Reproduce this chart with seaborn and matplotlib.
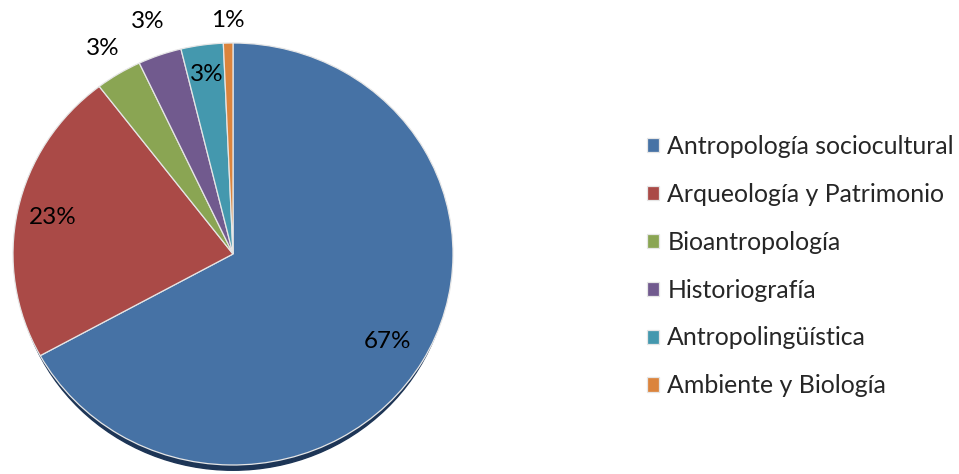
import numpy as np
import matplotlib
matplotlib.use("Agg")
import matplotlib.pyplot as plt
from matplotlib.patches import Ellipse
import seaborn as sns

categories = ["Antropología sociocultural", "Arqueología y Patrimonio", "Bioantropología",
              "Historiografía", "Antropolingüística", "Ambiente y Biología"]
values = [67.0, 22.6, 3.4, 3.2, 3.1, 0.7]
colors = ["#4672A5", "#AA4A47", "#8AA553", "#715A8E", "#4498AE", "#DB843D"]
label_dist = [0.816, 0.839, 1.139, 1.171, 0.858, 1.105]

sns.set_theme(style="white")
plt.rcParams['font.family'] = ['Lato', 'DejaVu Sans']

fig = plt.figure(figsize=(9.59, 4.74), dpi=100)
ax = fig.add_axes([13/959, 9/474, 440/959, 422/474])
ax.set_xlim(-1, 1)
ax.set_ylim(-1, 1)
ax.set_aspect('auto')
ax.axis('off')

# depth shadow
ax.add_patch(Ellipse((0, -0.03), 1.97, 1.99, color="#1d3556", zorder=0, clip_on=False))

wedges, _ = ax.pie(values, colors=colors, startangle=90, counterclock=False, radius=1,
                   wedgeprops=dict(edgecolor="#e6e6e6", linewidth=0.9))
ax.set_xlim(-1, 1)
ax.set_ylim(-1, 1)
ax.set_aspect('auto')
for w in wedges:
    w.set_zorder(2)
    w.set_clip_on(False)

total = sum(values)
cum = np.cumsum([0] + values)
for i, v in enumerate(values):
    mid = np.deg2rad((cum[i] + cum[i + 1]) / 2 / total * 360)
    d = label_dist[i]
    ax.text(d * np.sin(mid), d * np.cos(mid), f"{round(v / total * 100):.0f}%",
            ha="center", va="center", fontsize=17.5, color="black", zorder=5, clip_on=False)

leg = ax.legend(wedges, categories, loc="upper left", bbox_to_anchor=(647/959, 1 - 135/474),
                bbox_transform=fig.transFigure, frameon=False, fontsize=17.9,
                handlelength=0.5, handleheight=0.5, handletextpad=0.32, labelspacing=1.0,
                borderaxespad=0, borderpad=0)

fig.savefig("out.png", dpi=100)
